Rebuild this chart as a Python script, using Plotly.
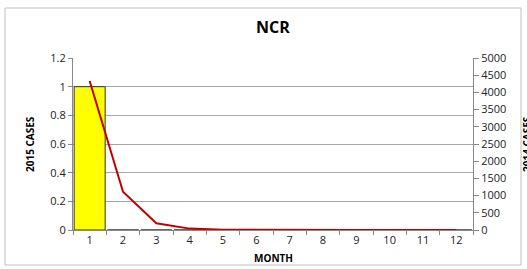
import plotly.graph_objects as go

months = [str(m) for m in range(1, 13)]
cases_2015 = [1, 0, 0, 0, 0, 0, 0, 0, 0, 0, 0, 0]
cases_2014 = [4330, 1110, 195, 40, 8, 2, 1, 1, 0, 0, 0, 0]
left_ticks = [0, 0.2, 0.4, 0.6, 0.8, 1, 1.2]
left_labels = ["0", "0.2", "0.4", "0.6", "0.8", "1", "1.2"]
right_ticks = list(range(0, 5001, 500))

W, H = 527, 269
L, R, T, B = 73, 54, 58, 39
pw, ph = W - L - R, H - T - B

def px_x(p):
    return (p - L) / pw

def px_y(p):
    return (H - B - p) / ph

font = "Open Sans, Liberation Sans, sans-serif"

fig = go.Figure()
fig.add_trace(go.Bar(x=months, y=cases_2015, marker=dict(color="#FFFF00", line=dict(color="#333333", width=1)),
                     yaxis="y", showlegend=False))
fig.add_trace(go.Scatter(x=months, y=cases_2014, mode="lines", line=dict(color="#C00000", width=2),
                         yaxis="y2", showlegend=False))

fig.update_layout(
    width=W, height=H,
    margin=dict(l=L, r=R, t=T, b=B),
    paper_bgcolor="white", plot_bgcolor="white",
    bargap=0.07,
    font=dict(family=font, size=11, color="#222222"),
    xaxis=dict(type="category", tickson="boundaries", ticks="outside", ticklen=4, tickcolor="#888888",
               showline=True, linecolor="#888888", linewidth=1, showgrid=False,
               tickfont=dict(size=11), range=[-0.5, 11.5]),
    yaxis=dict(range=[0, 1.2], tickvals=left_ticks, ticktext=left_labels, ticks="outside", ticklen=4,
               tickcolor="#888888", showline=True, linecolor="#888888", linewidth=1,
               showgrid=True, gridcolor="#a6a6a6", gridwidth=1, zeroline=False, tickfont=dict(size=11)),
    yaxis2=dict(range=[0, 5000], tickvals=right_ticks, overlaying="y", side="right", ticks="outside",
                ticklen=5, tickcolor="#888888", showline=True, linecolor="#888888", linewidth=1,
                showgrid=False, zeroline=False, tickfont=dict(size=11)),
)

fig.add_shape(type="rect", xref="paper", yref="paper", x0=px_x(5), x1=px_x(521), y0=px_y(265), y1=px_y(8),
              line=dict(color="#bfbfbf", width=1), fillcolor="rgba(0,0,0,0)", layer="below")

fig.add_annotation(text="<b>NCR</b>", xref="paper", yref="paper", x=0.5, y=px_y(27), showarrow=False,
                   font=dict(size=16, family=font, color="#000000"), xanchor="center", yanchor="middle")
fig.add_annotation(text="<b>2015 CASES</b>", xref="paper", yref="paper", x=px_x(30), y=0.5, showarrow=False,
                   textangle=-90, font=dict(size=10, family=font, color="#000000"), xanchor="center", yanchor="middle")
fig.add_annotation(text="<b>2014 CASES</b>", xref="paper", yref="paper", x=px_x(518), y=0.5, showarrow=False,
                   textangle=-90, font=dict(size=10, family=font, color="#000000"), xanchor="left", yanchor="middle")
fig.add_annotation(text="<b>MONTH</b>", xref="paper", yref="paper", x=0.5, y=px_y(258), showarrow=False,
                   font=dict(size=10, family=font, color="#000000"), xanchor="center", yanchor="middle")

fig.write_html("out.html", config={"displayModeBar": False},
               post_script="document.body.style.margin='0px';")
